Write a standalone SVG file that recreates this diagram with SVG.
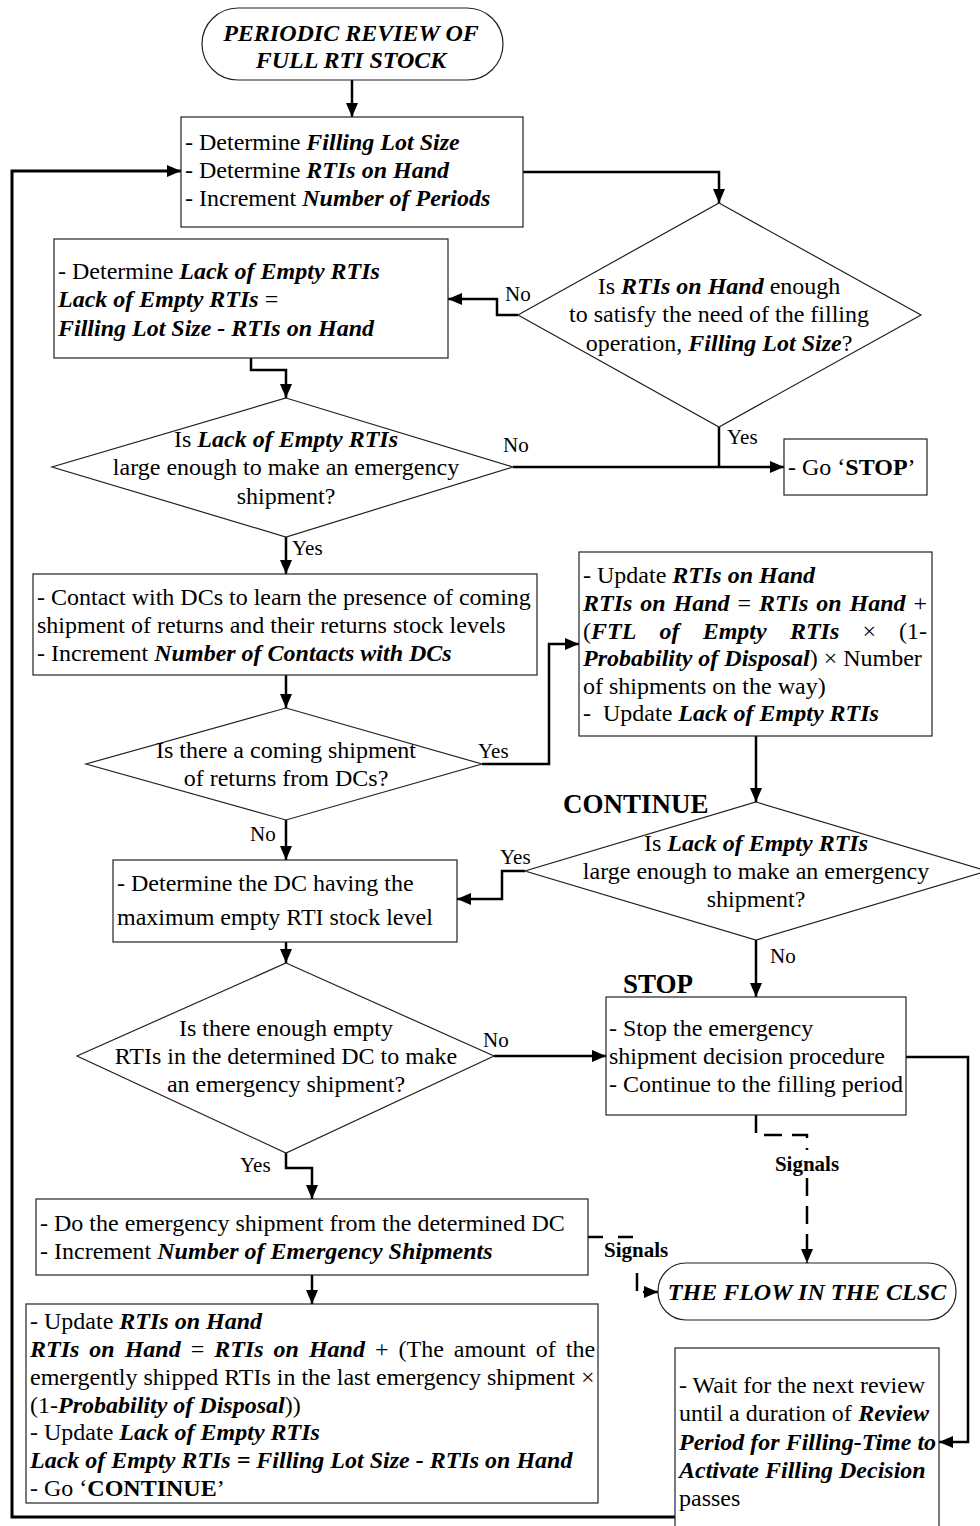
<svg xmlns="http://www.w3.org/2000/svg" width="980" height="1526" viewBox="0 0 980 1526">
<defs>
<style>
text{font-family:"Liberation Serif","Times New Roman",serif;font-size:24px;fill:#000}
.bi{font-weight:bold;font-style:italic}
.b{font-weight:bold}
.c{text-anchor:middle}
.e{text-anchor:end}
.lbl{font-size:21px}
.sig{font-size:21px;font-weight:bold}
.tag{font-size:27px;font-weight:bold}
.term{font-weight:bold;font-style:italic}
.shape{fill:#fff;stroke:#222;stroke-width:1.2}
.wire{fill:none;stroke:#000;stroke-width:2.5}
.loop{stroke-width:3}
.dash{stroke-dasharray:18 10}
.dash2{stroke-dasharray:15 15}
.dash3{stroke-dasharray:18 7}
</style>
<marker id="ah" markerUnits="userSpaceOnUse" markerWidth="14" markerHeight="12" refX="14" refY="6" orient="auto" overflow="visible">
<path d="M0,0 L14,6 L0,12 Z" fill="#000"/>
</marker>
</defs>
<rect x="0" y="0" width="980" height="1526" fill="#fff"/>

<!-- connectors -->
<g id="connectors">
<path class="wire" d="M352,80 V117" marker-end="url(#ah)"/>
<path class="wire" d="M523,172 H719 V203" marker-end="url(#ah)"/>
<path class="wire" d="M518,315 H497 V299 H448" marker-end="url(#ah)"/>
<path class="wire" d="M251,358 V370 H286 V398" marker-end="url(#ah)"/>
<path class="wire" d="M719,427 V467"/>
<path class="wire" d="M513,467 H784" marker-end="url(#ah)"/>
<path class="wire" d="M286,537 V574" marker-end="url(#ah)"/>
<path class="wire" d="M286,675 V708" marker-end="url(#ah)"/>
<path class="wire" d="M482,764 H549 V644 H579" marker-end="url(#ah)"/>
<path class="wire" d="M286,820 V860" marker-end="url(#ah)"/>
<path class="wire" d="M756,736 V802" marker-end="url(#ah)"/>
<path class="wire" d="M525,871 H502 V899 H457" marker-end="url(#ah)"/>
<path class="wire" d="M286,942 V963" marker-end="url(#ah)"/>
<path class="wire" d="M494,1056 H606" marker-end="url(#ah)"/>
<path class="wire" d="M756,940 V997" marker-end="url(#ah)"/>
<path class="wire" d="M906,1057 H968 V1442 H939" marker-end="url(#ah)"/>
<path class="wire" d="M286,1153 V1168 H312 V1199" marker-end="url(#ah)"/>
<path class="wire" d="M312,1275 V1304" marker-end="url(#ah)"/>
<path class="wire loop" d="M675,1517 H12 V171 H181" marker-end="url(#ah)"/>
<path class="wire dash" d="M756,1115 V1135 H807 V1150"/>
<path class="wire dash" d="M807,1178 V1263" marker-end="url(#ah)"/>
<path class="wire dash2" d="M588,1237 H637"/>
<path class="wire dash3" d="M637,1273 V1292 H658" marker-end="url(#ah)"/>
<text class="lbl" x="505" y="301">No</text>
<text class="lbl" x="727" y="444">Yes</text>
<text class="lbl" x="503" y="452">No</text>
<text class="lbl" x="292" y="555">Yes</text>
<text class="lbl" x="478" y="758">Yes</text>
<text class="lbl" x="250" y="841">No</text>
<text class="lbl" x="500" y="864">Yes</text>
<text class="lbl" x="770" y="963">No</text>
<text class="lbl" x="483" y="1047">No</text>
<text class="lbl" x="240" y="1172">Yes</text>
<text class="sig c" x="807" y="1171">Signals</text>
<text class="sig" x="604" y="1257">Signals</text>
</g>

<!-- start terminal -->
<g id="start">
<rect class="shape" x="202" y="8" width="301" height="72" rx="36"/>
<text class="term c" x="351" y="41">PERIODIC REVIEW OF</text>
<text class="term c" x="351" y="68">FULL RTI STOCK</text>
</g>

<g id="determine">
<rect class="shape" x="181" y="117" width="342" height="110"/>
<text x="185" y="150">- Determine <tspan class="bi">Filling Lot Size</tspan></text>
<text x="185" y="178">- Determine <tspan class="bi">RTIs on Hand</tspan></text>
<text x="185" y="206">- Increment <tspan class="bi">Number of Periods</tspan></text>
</g>

<g id="enough-on-hand">
<polygon class="shape" points="719,203 921,315 719,427 518,315"/>
<text class="c" x="719" y="294">Is <tspan class="bi">RTIs on Hand</tspan> enough</text>
<text class="c" x="719" y="322">to satisfy the need of the filling</text>
<text class="c" x="719" y="351">operation, <tspan class="bi">Filling Lot Size</tspan>?</text>
</g>

<g id="lack">
<rect class="shape" x="54" y="239" width="394" height="119"/>
<text x="58" y="279">- Determine <tspan class="bi">Lack of Empty RTIs</tspan></text>
<text x="58" y="307"><tspan class="bi">Lack of Empty RTIs</tspan> =</text>
<text x="58" y="336" class="bi">Filling Lot Size - RTIs on Hand</text>
</g>

<g id="lack-large-1">
<polygon class="shape" points="286,398 513,467 286,537 52,467"/>
<text class="c" x="286" y="447">Is <tspan class="bi">Lack of Empty RTIs</tspan></text>
<text class="c" x="286" y="475">large enough to make an emergency</text>
<text class="c" x="286" y="504">shipment?</text>
</g>

<g id="go-stop">
<rect class="shape" x="784" y="439" width="143" height="56"/>
<text x="788" y="475">- Go ‘<tspan class="b">STOP</tspan>’</text>
</g>

<g id="contact">
<rect class="shape" x="33" y="574" width="504" height="101"/>
<text x="37" y="605">- Contact with DCs to learn the presence of coming</text>
<text x="37" y="633">shipment of returns and their returns stock levels</text>
<text x="37" y="661">- Increment <tspan class="bi">Number of Contacts with DCs</tspan></text>
</g>

<g id="coming-shipment">
<polygon class="shape" points="286,708 482,764 286,820 86,764"/>
<text class="c" x="286" y="758">Is there a coming shipment</text>
<text class="c" x="286" y="786">of returns from DCs?</text>
</g>

<g id="update-on-hand">
<rect class="shape" x="579" y="552" width="353" height="184"/>
<text x="583" y="583">- Update <tspan class="bi">RTIs on Hand</tspan></text>
<text y="611"><tspan class="bi" x="583">RTIs</tspan><tspan class="bi" x="640.3">on</tspan><tspan class="bi" x="673.6">Hand</tspan><tspan x="737.5">=</tspan><tspan class="bi" x="759">RTIs</tspan><tspan class="bi" x="816.3">on</tspan><tspan class="bi" x="849.6">Hand</tspan><tspan x="913.5">+</tspan></text>
<text y="639"><tspan x="583">(<tspan class="bi">FTL</tspan></tspan><tspan class="bi" x="659.5">of</tspan><tspan class="bi" x="702.7">Empty</tspan><tspan class="bi" x="789.9">RTIs</tspan><tspan x="862.4">×</tspan><tspan x="899.1">(1-</tspan></text>
<text x="583" y="666"><tspan class="bi">Probability of Disposal</tspan>) × Number</text>
<text x="583" y="694">of shipments on the way)</text>
<text x="583" y="721">-&#160; Update <tspan class="bi">Lack of Empty RTIs</tspan></text>
</g>

<g id="lack-large-2">
<text class="tag" x="563" y="813">CONTINUE</text>
<polygon class="shape" points="756,802 987,871 756,940 525,871"/>
<text class="c" x="756" y="851">Is <tspan class="bi">Lack of Empty RTIs</tspan></text>
<text class="c" x="756" y="879">large enough to make an emergency</text>
<text class="c" x="756" y="907">shipment?</text>
</g>

<g id="max-dc">
<rect class="shape" x="113" y="860" width="344" height="82"/>
<text x="117" y="891">- Determine the DC having the</text>
<text x="117" y="925">maximum empty RTI stock level</text>
</g>

<g id="enough-in-dc">
<polygon class="shape" points="286,963 494,1056 286,1153 77,1056"/>
<text class="c" x="286" y="1036">Is there enough empty</text>
<text class="c" x="286" y="1064">RTIs in the determined DC to make</text>
<text class="c" x="286" y="1092">an emergency shipment?</text>
</g>

<g id="stop">
<text class="tag" x="623" y="993">STOP</text>
<rect class="shape" x="606" y="997" width="300" height="118"/>
<text x="609" y="1036">- Stop the emergency</text>
<text x="609" y="1064">shipment decision procedure</text>
<text x="609" y="1092">- Continue to the filling period</text>
</g>

<g id="clsc-flow">
<rect class="shape" x="658" y="1263" width="298" height="57" rx="28"/>
<text class="term c" x="807" y="1300">THE FLOW IN THE CLSC</text>
</g>

<g id="do-shipment">
<rect class="shape" x="36" y="1199" width="552" height="76"/>
<text x="40" y="1231">- Do the emergency shipment from the determined DC</text>
<text x="40" y="1259">- Increment <tspan class="bi">Number of Emergency Shipments</tspan></text>
</g>

<g id="update-after-shipment">
<rect class="shape" x="26" y="1304" width="572" height="199"/>
<text x="30" y="1329">- Update <tspan class="bi">RTIs on Hand</tspan></text>
<text y="1357"><tspan class="bi" x="30">RTIs</tspan><tspan class="bi" x="89.3">on</tspan><tspan class="bi" x="124.7">Hand</tspan><tspan x="190.7">=</tspan><tspan class="bi" x="214.2">RTIs</tspan><tspan class="bi" x="273.6">on</tspan><tspan class="bi" x="308.9">Hand</tspan><tspan x="374.9">+</tspan><tspan x="398.5">(The</tspan><tspan x="453.8">amount</tspan><tspan x="535.8">of</tspan><tspan x="565.8">the</tspan></text>
<text x="30" y="1385">emergently shipped RTIs in the last emergency shipment ×</text>
<text x="30" y="1413">(1-<tspan class="bi">Probability of Disposal</tspan>))</text>
<text x="30" y="1440">- Update <tspan class="bi">Lack of Empty RTIs</tspan></text>
<text x="30" y="1468" class="bi">Lack of Empty RTIs = Filling Lot Size - RTIs on Hand</text>
<text x="30" y="1496">- Go ‘<tspan class="b">CONTINUE</tspan>’</text>
</g>

<g id="wait">
<rect class="shape" x="675" y="1348" width="264" height="190"/>
<text x="679" y="1393">- Wait for the next review</text>
<text x="679" y="1421">until a duration of</text>
<text class="bi e" x="929" y="1421">Review</text>
<text x="679" y="1450" class="bi">Period for Filling-Time to</text>
<text x="679" y="1478" class="bi">Activate Filling Decision</text>
<text x="679" y="1506">passes</text>
</g>
</svg>
